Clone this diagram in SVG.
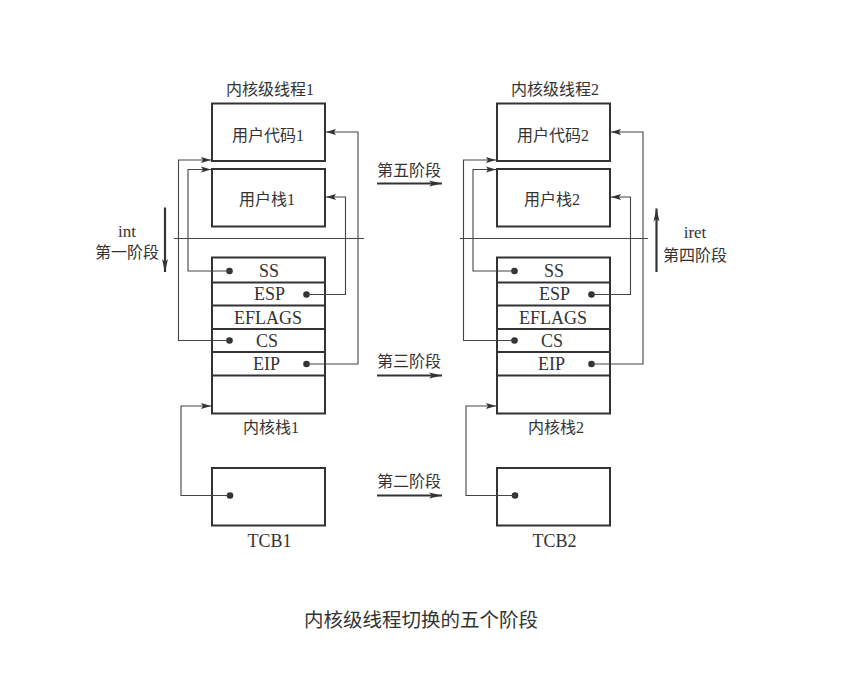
<svg xmlns="http://www.w3.org/2000/svg" width="846" height="679" viewBox="0 0 846 679">
<defs>
<style>
.box{fill:none;stroke:#333;stroke-width:2}
.row{stroke:#333;stroke-width:1.8}
.ln{fill:none;stroke:#444;stroke-width:1.1}
.big{fill:none;stroke:#333;stroke-width:2.2}
.dot{fill:#333}
.cjk{font-family:"Liberation Serif","Noto Sans CJK SC",serif;font-size:16px;fill:#333;text-anchor:middle}
.lat{font-family:"Liberation Serif","DejaVu Serif",serif;font-size:18px;fill:#333;text-anchor:middle}
</style>
<marker id="ah" markerUnits="userSpaceOnUse" markerWidth="11" markerHeight="7" refX="10" refY="3.5" orient="auto">
<path d="M0,0.5 L10,3.5 L0,6.5 L2,3.5 z" fill="#333"/>
</marker>
<marker id="bh" markerUnits="userSpaceOnUse" markerWidth="14" markerHeight="8" refX="13" refY="4" orient="auto">
<path d="M0,1 L13,4 L0,7 L3,4 z" fill="#333"/>
</marker>
</defs>
<rect width="846" height="679" fill="#fff"/>

<g id="thread1">
<g id="title1"><text class="cjk" x="270" y="95">内核级线程1</text></g>
<g id="usercode1"><rect class="box" x="212" y="103.5" width="113" height="57.5"/><text class="cjk" x="268" y="141">用户代码1</text></g>
<g id="userstack1"><rect class="box" x="212" y="169" width="113" height="57.5"/><text class="cjk" x="267" y="205">用户栈1</text></g>
<g id="kstack1">
<rect class="box" x="212" y="257.5" width="113" height="156"/>
<line class="row" x1="212" y1="282.5" x2="325" y2="282.5"/>
<line class="row" x1="212" y1="305.5" x2="325" y2="305.5"/>
<line class="row" x1="212" y1="329" x2="325" y2="329"/>
<line class="row" x1="212" y1="352" x2="325" y2="352"/>
<line class="row" x1="212" y1="375.5" x2="325" y2="375.5"/>
<text class="lat" x="269" y="276.5">SS</text>
<text class="lat" x="269.5" y="300">ESP</text>
<text class="lat" x="268" y="323.5">EFLAGS</text>
<text class="lat" x="267" y="347">CS</text>
<text class="lat" x="266.5" y="370">EIP</text>
<circle class="dot" cx="229.5" cy="271" r="3.3"/>
<circle class="dot" cx="306.5" cy="294.5" r="3.3"/>
<circle class="dot" cx="229.5" cy="340.5" r="3.3"/>
<circle class="dot" cx="306.5" cy="364" r="3.3"/>
<text class="cjk" x="271" y="433">内核栈1</text>
</g>
<g id="tcb1"><rect class="box" x="212" y="468" width="113" height="57.5"/><circle class="dot" cx="230" cy="495.5" r="3.3"/><text class="lat" x="269.5" y="547">TCB1</text></g>
</g>

<g id="thread2">
<g id="title2"><text class="cjk" x="555" y="95">内核级线程2</text></g>
<g id="usercode2"><rect class="box" x="497" y="103.5" width="113" height="57.5"/><text class="cjk" x="553" y="141">用户代码2</text></g>
<g id="userstack2"><rect class="box" x="497" y="169" width="113" height="57.5"/><text class="cjk" x="552" y="205">用户栈2</text></g>
<g id="kstack2">
<rect class="box" x="497" y="257.5" width="113" height="156"/>
<line class="row" x1="497" y1="282.5" x2="610" y2="282.5"/>
<line class="row" x1="497" y1="305.5" x2="610" y2="305.5"/>
<line class="row" x1="497" y1="329" x2="610" y2="329"/>
<line class="row" x1="497" y1="352" x2="610" y2="352"/>
<line class="row" x1="497" y1="375.5" x2="610" y2="375.5"/>
<text class="lat" x="554" y="276.5">SS</text>
<text class="lat" x="554.5" y="300">ESP</text>
<text class="lat" x="553" y="323.5">EFLAGS</text>
<text class="lat" x="552" y="347">CS</text>
<text class="lat" x="551.5" y="370">EIP</text>
<circle class="dot" cx="514.5" cy="271" r="3.3"/>
<circle class="dot" cx="591.5" cy="294.5" r="3.3"/>
<circle class="dot" cx="514.5" cy="340.5" r="3.3"/>
<circle class="dot" cx="591.5" cy="364" r="3.3"/>
<text class="cjk" x="556" y="433">内核栈2</text>
</g>
<g id="tcb2"><rect class="box" x="497" y="468" width="113" height="57.5"/><circle class="dot" cx="515" cy="495.5" r="3.3"/><text class="lat" x="554.5" y="547">TCB2</text></g>
</g>

<g id="labels">
<text class="lat" x="127" y="237" style="font-size:17px">int</text>
<text class="cjk" x="127" y="258">第一阶段</text>
<text class="lat" x="695" y="238" style="font-size:17px">iret</text>
<text class="cjk" x="695" y="261">第四阶段</text>
<text class="cjk" x="409" y="176">第五阶段</text>
<text class="cjk" x="409" y="367">第三阶段</text>
<text class="cjk" x="409" y="487">第二阶段</text>
<text class="cjk" x="421" y="627" style="font-size:19.5px">内核级线程切换的五个阶段</text>
</g>

<g id="connectors">
<line class="ln" x1="174" y1="238.5" x2="364" y2="238.5"/>
<line class="ln" x1="460" y1="238.5" x2="648" y2="238.5"/>
<line class="big" x1="165" y1="207.5" x2="165" y2="272" marker-end="url(#bh)"/>
<line class="big" x1="656.5" y1="272" x2="656.5" y2="208.5" marker-end="url(#bh)"/>
<line class="big" x1="377" y1="183.5" x2="442" y2="183.5" marker-end="url(#bh)"/>
<line class="big" x1="377" y1="375.5" x2="442" y2="375.5" marker-end="url(#bh)"/>
<line class="big" x1="377" y1="495.5" x2="442" y2="495.5" marker-end="url(#bh)"/>

<path class="ln" d="M229.5,340.5 H178.5 V160 H211" marker-end="url(#ah)"/>
<path class="ln" d="M229.5,271 H188 V169.5 H211" marker-end="url(#ah)"/>
<path class="ln" d="M306.5,294.5 H345.5 V197 H326" marker-end="url(#ah)"/>
<path class="ln" d="M306.5,364 H358 V132 H326" marker-end="url(#ah)"/>
<path class="ln" d="M230,495.5 H181 V406 H211" marker-end="url(#ah)"/>

<path class="ln" d="M514.5,340.5 H463.5 V160 H496" marker-end="url(#ah)"/>
<path class="ln" d="M514.5,271 H473 V169.5 H496" marker-end="url(#ah)"/>
<path class="ln" d="M591.5,294.5 H630.5 V197 H611" marker-end="url(#ah)"/>
<path class="ln" d="M591.5,364 H643 V132 H611" marker-end="url(#ah)"/>
<path class="ln" d="M515,495.5 H466 V406 H496" marker-end="url(#ah)"/>
</g>
</svg>
